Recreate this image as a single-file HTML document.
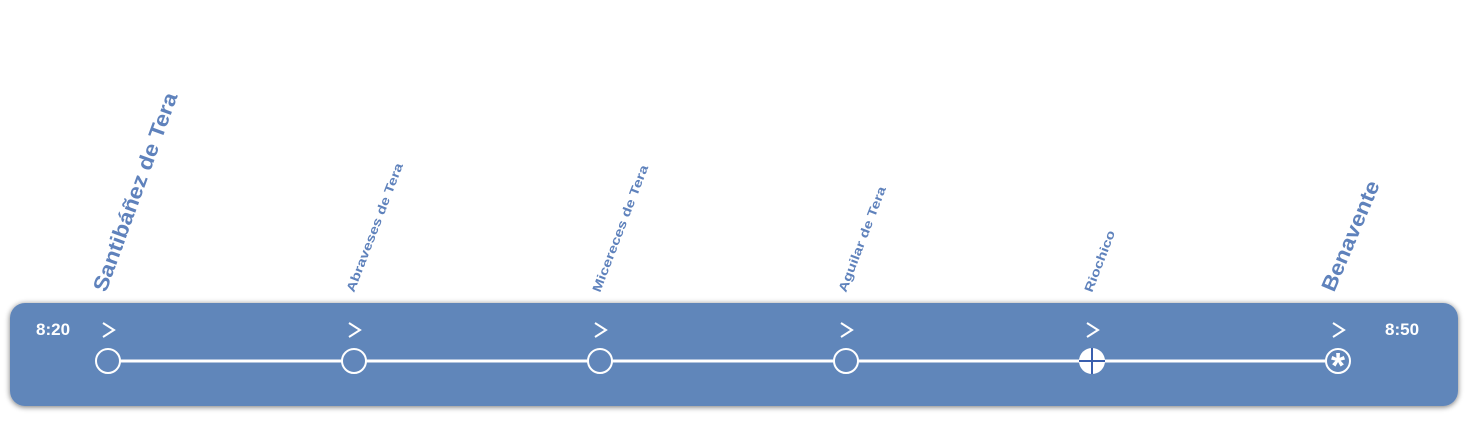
<!DOCTYPE html>
<html><head><meta charset="utf-8"><style>
html,body{margin:0;padding:0;background:#fff;}
body{width:1468px;height:426px;overflow:hidden;}
</style></head><body>
<svg width="1468" height="426" xmlns="http://www.w3.org/2000/svg" font-family="Liberation Sans, sans-serif">
<defs>
<filter id="sh" x="-5%" y="-20%" width="110%" height="150%">
<feGaussianBlur in="SourceAlpha" stdDeviation="3"/>
<feOffset dx="0" dy="1"/>
<feComponentTransfer><feFuncA type="linear" slope="0.55"/></feComponentTransfer>
<feMerge><feMergeNode/><feMergeNode in="SourceGraphic"/></feMerge>
</filter>
</defs>
<rect x="10" y="303" width="1448" height="103" rx="15" fill="#6186ba" filter="url(#sh)"/>
<g fill="#5f82bc" font-weight="bold">
<text transform="translate(106,293) rotate(-70)" font-size="21" textLength="210" lengthAdjust="spacingAndGlyphs">Santibáñez de Tera</text>
<text transform="translate(354,293) rotate(-69)" font-size="12.5" textLength="137" lengthAdjust="spacingAndGlyphs">Abraveses de Tera</text>
<text transform="translate(600,293) rotate(-69)" font-size="12.5" textLength="135" lengthAdjust="spacingAndGlyphs">Micereces de Tera</text>
<text transform="translate(846,293) rotate(-69)" font-size="12.5" textLength="112" lengthAdjust="spacingAndGlyphs">Aguilar de Tera</text>
<text transform="translate(1092,293) rotate(-69)" font-size="12.5" textLength="65" lengthAdjust="spacingAndGlyphs">Riochico</text>
<text transform="translate(1334,293) rotate(-67)" font-size="21" textLength="118" lengthAdjust="spacingAndGlyphs">Benavente</text>
</g>
<g fill="#fff" font-size="17" font-weight="bold">
<text x="36" y="335">8:20</text>
<text x="1385" y="335">8:50</text>
</g>
<g stroke="#fff" stroke-width="2" fill="none">
<path d="M103 323 L114 330 L103 337"/>
<path d="M349 323 L360 330 L349 337"/>
<path d="M595 323 L606 330 L595 337"/>
<path d="M841 323 L852 330 L841 337"/>
<path d="M1087 323 L1098 330 L1087 337"/>
<path d="M1333 323 L1344 330 L1333 337"/>
</g>
<line x1="108" y1="361" x2="1338" y2="361" stroke="#fff" stroke-width="3"/>
<g stroke="#fff" stroke-width="2" fill="#6186ba">
<circle cx="108" cy="361" r="12"/>
<circle cx="354" cy="361" r="12"/>
<circle cx="600" cy="361" r="12"/>
<circle cx="846" cy="361" r="12"/>
<circle cx="1338" cy="361" r="12"/>
</g>
<circle cx="1092" cy="361" r="13" fill="#fff"/>
<path d="M1092 348 V374 M1079 361 H1105" stroke="#3a5fae" stroke-width="2"/>
<text x="1338" y="378" text-anchor="middle" fill="#fff" font-size="36" font-weight="bold">*</text>
</svg>
</body></html>
